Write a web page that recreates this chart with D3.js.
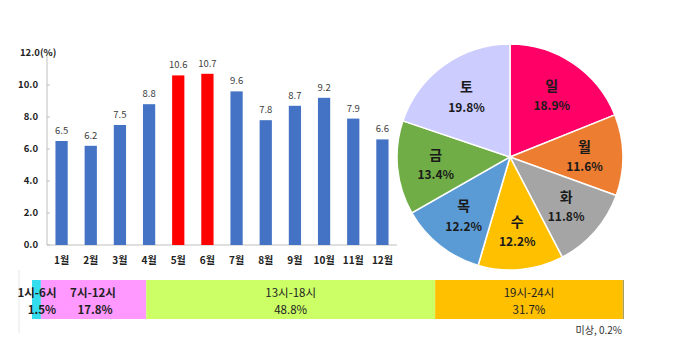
<!DOCTYPE html>
<html><head><meta charset="utf-8">
<script src="https://cdn.jsdelivr.net/npm/d3@7"></script>
<style>body{margin:0;background:#fff}svg{display:block}text{font-family:"Noto Sans CJK KR","Noto Sans",sans-serif}</style>
</head><body><svg id="c" width="680" height="339"></svg>
<script>
const months = ["1월","2월","3월","4월","5월","6월","7월","8월","9월","10월","11월","12월"];
const monthValues = [6.5,6.2,7.5,8.8,10.6,10.7,9.6,7.8,8.7,9.2,7.9,6.6];
const highlightMonths = ["5월","6월"];
const yTicks = [0,2,4,6,8,10,12];
const days = ["일","월","화","수","목","금","토"];
const dayValues = [18.9,11.6,11.8,12.2,12.2,13.4,19.8];
const dayColors = ["#FF0066","#ED7D31","#A5A5A5","#FFC000","#5B9BD5","#70AD47","#CCCCFF"];
const hours = ["1시-6시","7시-12시","13시-18시","19시-24시","미상"];
const hourValues = [1.5,17.8,48.8,31.7,0.2];
const hourColors = ["#33DDEE","#FF99FF","#CCFF66","#FFC000","#A9A060"];

const svg = d3.select("#c");
svg.append("rect").attr("width",680).attr("height",339).attr("fill","#fff");

// ---- Bar chart ----
const x = d3.scaleBand().domain(months).range([47,397]).paddingInner(0.58).paddingOuter(0.29);
const y = d3.scaleLinear().domain([0,12]).range([245,53]);
const g = svg.append("g");
g.append("line").attr("x1",47).attr("x2",47).attr("y1",53).attr("y2",245).attr("stroke","#BFBFBF");
g.append("line").attr("x1",47).attr("x2",397).attr("y1",245).attr("y2",245).attr("stroke","#BFBFBF");
yTicks.forEach(t=>{
  g.append("line").attr("x1",47).attr("x2",50).attr("y1",y(t)).attr("y2",y(t)).attr("stroke","#BFBFBF");
  if(t<12) g.append("text").attr("x",38).attr("y",y(t)).attr("dy","0.35em").attr("text-anchor","end")
    .attr("font-size",9.5).attr("font-weight","bold").attr("fill","#222").text(t.toFixed(1));
});
g.append("text").attr("x",20).attr("y",y(12)).attr("dy","0.35em").attr("font-size",9.5).attr("font-weight","bold").attr("fill","#222")
  .text("12.0(%)");
g.selectAll("rect.bar").data(months).join("rect").attr("class","bar")
  .attr("x",d=>x(d)).attr("width",x.bandwidth())
  .attr("y",(d,i)=>y(monthValues[i])).attr("height",(d,i)=>y(0)-y(monthValues[i]))
  .attr("fill",d=>highlightMonths.includes(d)?"#FF0000":"#4472C4");
g.selectAll("text.val").data(months).join("text").attr("class","val")
  .attr("x",d=>x(d)+x.bandwidth()/2).attr("y",(d,i)=>y(monthValues[i])-7)
  .attr("text-anchor","middle").attr("font-size",9.5).attr("fill","#404040")
  .text((d,i)=>monthValues[i].toFixed(1));
g.selectAll("text.mon").data(months).join("text").attr("class","mon")
  .attr("x",d=>x(d)+x.bandwidth()/2).attr("y",260).attr("dy","0.35em")
  .attr("text-anchor","middle").attr("font-size",10).attr("font-weight","bold").attr("fill","#222")
  .text(d=>d);

// ---- Pie ----
const pieData = d3.pie().sort(null).value(d=>d)(dayValues);
const R = 113;
const pg = svg.append("g").attr("transform","translate(510,157)");
const arc = d3.arc().innerRadius(0).outerRadius(R);
const lab = d3.arc().innerRadius(R*0.66).outerRadius(R*0.66);
pg.selectAll("path").data(pieData).join("path").attr("d",arc)
  .attr("fill",(d,i)=>dayColors[i]).attr("stroke","#fff").attr("stroke-width",1.5);
pieData.forEach((d,i)=>{
  const [cx,cy] = lab.centroid(d);
  pg.append("text").attr("x",cx).attr("y",cy-9).attr("dy","0.35em").attr("text-anchor","middle")
    .attr("font-size",14).attr("font-weight","bold").attr("fill","#1a1a1a").text(days[i]);
  pg.append("text").attr("x",cx).attr("y",cy+11).attr("dy","0.35em").attr("text-anchor","middle")
    .attr("font-size",12).attr("font-weight","bold").attr("fill","#1a1a1a").text(dayValues[i].toFixed(1)+"%");
});

// ---- Hour stacked bar ----
const hx = d3.scaleLinear().domain([0,100]).range([32,624]);
const hg = svg.append("g");
hg.append("line").attr("x1",19).attr("x2",19).attr("y1",270).attr("y2",333).attr("stroke","#E6E6E6");
let acc = 0;
const segs = hourValues.map((v,i)=>{const s={name:hours[i],v,x0:acc,x1:acc+v,c:hourColors[i]};acc+=v;return s;});
hg.selectAll("rect").data(segs).join("rect")
  .attr("x",d=>hx(d.x0)).attr("width",d=>hx(d.x1)-hx(d.x0)).attr("y",280).attr("height",39).attr("fill",d=>d.c);
const labPos = [[37,42],[93,95],null,null];
segs.slice(0,4).forEach((d,i)=>{
  const cx = labPos[i] ? labPos[i][0] : (hx(d.x0)+hx(d.x1))/2;
  const cx2 = labPos[i] ? labPos[i][1] : cx;
  const bold = i<2;
  hg.append("text").attr("x",cx).attr("y",293).attr("dy","0.35em").attr("text-anchor","middle")
    .attr("font-size",11.5).attr("font-weight",bold?"bold":"normal").attr("fill","#222").text(d.name);
  hg.append("text").attr("x",cx2).attr("y",310).attr("dy","0.35em").attr("text-anchor","middle")
    .attr("font-size",11.5).attr("font-weight",bold?"bold":"normal").attr("fill","#222").text(d.v.toFixed(1)+"%");
});
hg.append("text").attr("x",622).attr("y",330).attr("dy","0.35em").attr("text-anchor","end")
  .attr("font-size",10).attr("fill","#333").text(hours[4]+", "+hourValues[4].toFixed(1)+"%");
</script></body></html>
